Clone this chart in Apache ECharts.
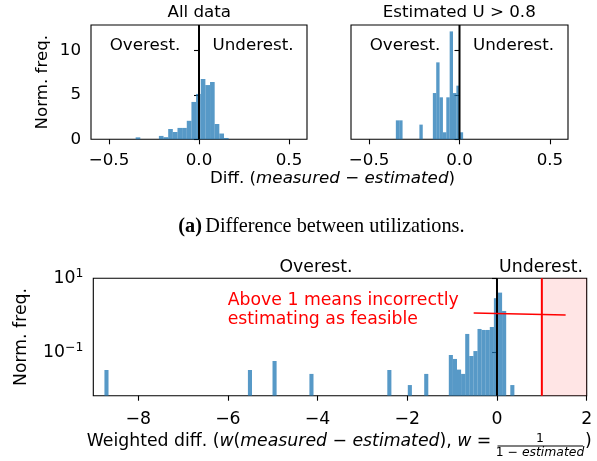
<!DOCTYPE html>
<html><head><meta charset="utf-8">
<script src="https://cdn.jsdelivr.net/npm/echarts@6/dist/echarts.min.js"></script>
<style>html,body{margin:0;padding:0;background:#fff}#c{width:597px;height:461px}</style>
</head><body><div id="c"></div>
<script>
// ---- data (density histograms) ----
// Top-left: all data (20 bins)
const allBinStart = -0.352, allBinWidth = 0.02583;
const allHeights = [0.22,0,0,0,0,0.38,0.24,1.16,0.82,1.28,1.28,2.08,4.2,5.1,6.78,6.1,6.44,1.72,0.65,0.15];
// Top-right: estimated U > 0.8 (20 bins)
const hiBinStart = -0.352, hiBinWidth = 0.0186;
const hiHeights = [2.13,2.13,0,0,0,0,0,1.65,0,0,0,5.2,8.65,4.72,0.79,4.72,12.13,5.2,6.03,0.79];
// Bottom: weighted difference (100 bins, only non-empty listed)
const wBinStart = -8.752, wBinWidth = 0.0914;
const wBins    = [0,35,41,50,69,74,78,84,85,86,87,88,89,90,91,92,93,94,95,96,97,99];
const wHeights = [0.0332,0.0332,0.0582,0.026,0.0332,0.013,0.026,0.0845,0.066,0.034,0.026,0.313,0.0794,0.108,0.427,0.401,0.401,0.483,2.9,4.1,1.31,0.013];
// ticks
const topXTicks = [-0.5,0,0.5];
const topYTicks = [0,5,10];
const botXTicks = [-8,-6,-4,-2,0,2];
const botYTicks = [0.1,10];
// annotation line (data coords)
const annotLine = [[-0.52,1.15],[1.53,1.02]];

const FONT = 'DejaVu Sans';
const FS = 16.7;   // top figure
const FS2 = 17.3;  // bottom figure
const BAR = 'rgba(31,119,180,0.75)';
const minus = s => String(s).replace('-', '\u2212');

function histItem(start, width){
  return function(params, api){
    const i = api.value(0), h = api.value(1);
    if (!(h > 0)) return null;
    const p0 = api.coord([start + i*width, h]);
    const p1 = api.coord([start + (i+1)*width, h]);
    const base = params.coordSys.y + params.coordSys.height;
    return {type:'rect', shape:{x:p0[0], y:p0[1], width:p1[0]-p0[0], height:base-p0[1]}, style:{fill:BAR}};
  };
}

const axLabel = {color:'#000', fontFamily:FONT, fontSize:FS};
const axLabel2 = {color:'#000', fontFamily:FONT, fontSize:FS2};
function xAxisTop(idx){
  return {type:'value', gridIndex:idx, min:-0.6, max:0.6, splitLine:{show:false},
    axisLine:{show:false},
    axisTick:{show:true, length:5, lineStyle:{color:'#000', width:1.1}, customValues:topXTicks},
    axisLabel:Object.assign({margin:13, customValues:topXTicks, formatter:v=>minus(v.toFixed(1))}, axLabel)};
}
function yAxisTop(idx, labels){
  return {type:'value', gridIndex:idx, min:0, max:12.85, splitLine:{show:false},
    axisLine:{show:false},
    axisTick:{show:true, length:5, lineStyle:{color:'#000', width:1.1}, customValues:topYTicks},
    axisLabel:Object.assign({show:labels, margin:10, customValues:topYTicks, formatter:v=>String(v)}, axLabel)};
}
const gridBase = {show:true, borderColor:'#000', borderWidth:1.1, backgroundColor:'transparent', containLabel:false, outerBoundsMode:'none'};
const t = (text, x, y, fs, extra) => Object.assign({type:'text', x, y, style:{text, font:`${fs}px "${FONT}"`, fill:'#000', align:'center', verticalAlign:'middle'}}, extra||{});

const option = {
  animation:false,
  backgroundColor:'#fff',
  grid:[
    Object.assign({left:91, top:25, width:216, height:114.3}, gridBase),
    Object.assign({left:351, top:25, width:217, height:114.3}, gridBase),
    Object.assign({left:93.3, top:278.3, width:493.4, height:117.4}, gridBase)
  ],
  xAxis:[
    xAxisTop(0), xAxisTop(1),
    {type:'value', gridIndex:2, min:-9, max:2, splitLine:{show:false}, axisLine:{show:false},
     axisTick:{show:true, length:5, lineStyle:{color:'#000', width:1.1}, customValues:botXTicks},
     axisLabel:Object.assign({margin:15, customValues:botXTicks, showMinLabel:true, showMaxLabel:true, formatter:v=>minus(v)}, axLabel2)}
  ],
  yAxis:[
    yAxisTop(0,true), yAxisTop(1,false),
    {type:'log', logBase:10, gridIndex:2, min:0.0067, max:10, splitLine:{show:false}, axisLine:{show:false},
     axisTick:{show:true, length:5, lineStyle:{color:'#000', width:1.1}, customValues:botYTicks},
     minorTick:{show:false},
     axisLabel:{margin:10, customValues:botYTicks, color:'#000',
       formatter:v=> v>=1 ? '{b|10}{s|1}' : '{b|10}{s|\u22121}',
       rich:{b:{fontFamily:FONT, fontSize:FS2, color:'#000'}, s:{fontFamily:FONT, fontSize:12.4, color:'#000', padding:[0,0,9,0]}}}}
  ],
  series:[
    {type:'custom', xAxisIndex:0, yAxisIndex:0, renderItem:histItem(allBinStart, allBinWidth), data:allHeights.map((h,i)=>[i,h]), encode:{x:-1,y:-1}, silent:true},
    {type:'custom', xAxisIndex:1, yAxisIndex:1, renderItem:histItem(hiBinStart, hiBinWidth), data:hiHeights.map((h,i)=>[i,h]), encode:{x:-1,y:-1}, silent:true},
    {type:'custom', xAxisIndex:2, yAxisIndex:2, renderItem:histItem(wBinStart, wBinWidth), data:wBins.map((b,i)=>[b,wHeights[i]]), encode:{x:-1,y:-1}, silent:true},
    {type:'line', xAxisIndex:0, yAxisIndex:0, data:[[0,0],[0,12.85]], symbol:'none', lineStyle:{color:'#000', width:2}, z:5, silent:true},
    {type:'line', xAxisIndex:1, yAxisIndex:1, data:[[0,0],[0,12.85]], symbol:'none', lineStyle:{color:'#000', width:2}, z:5, silent:true},
    {type:'line', xAxisIndex:2, yAxisIndex:2, data:[[0,0.0067],[0,10]], symbol:'none', lineStyle:{color:'#000', width:2}, z:5, silent:true,
     markArea:{silent:true, itemStyle:{color:'rgba(255,0,0,0.1)', borderWidth:0}, data:[[{xAxis:1},{xAxis:2}]]}},
    {type:'line', xAxisIndex:2, yAxisIndex:2, data:[[1,0.0067],[1,10]], symbol:'none', lineStyle:{color:'#ff0000', width:2}, z:6, silent:true},
    {type:'line', xAxisIndex:2, yAxisIndex:2, data:annotLine, symbol:'none', lineStyle:{color:'#ff0000', width:1.5}, z:6, silent:true}
  ],
  graphic:[
    t('All data', 199.3, 13, FS),
    t('Estimated U > 0.8', 459.3, 13, FS),
    t('Overest.', 145, 45.5, FS),
    t('Underest.', 253, 45.5, FS),
    t('Overest.', 405, 45.5, FS),
    t('Underest.', 513.5, 45.5, FS),
    t('Norm. freq.', 43, 82.2, FS, {rotation:Math.PI/2}),
    {type:'text', x:332.5, y:178.5, style:{text:'{n|Diff. (}{i|measured}{n| \u2212 }{i|estimated}{n|)}', align:'center', verticalAlign:'middle',
      rich:{n:{fontFamily:FONT, fontSize:FS, fill:'#000'}, i:{fontFamily:FONT, fontSize:FS, fontStyle:'italic', fill:'#000'}}}},
    {type:'text', x:178.3, y:227, style:{text:'{b|(a)} {n|Difference between utilizations.}', align:'left', verticalAlign:'middle',
      rich:{b:{fontFamily:'Liberation Serif', fontSize:20.3, fontWeight:'bold', fill:'#000'}, n:{fontFamily:'Liberation Serif', fontSize:20.3, fill:'#000'}}}},
    t('Overest.', 316, 268, FS2),
    t('Underest.', 541, 268, FS2),
    {type:'text', x:227.7, y:301, z:10, style:{text:'Above 1 means incorrectly', font:`${FS2}px "${FONT}"`, fill:'#ff0000', align:'left', verticalAlign:'middle'}},
    {type:'text', x:227.7, y:320, z:10, style:{text:'estimating as feasible', font:`${FS2}px "${FONT}"`, fill:'#ff0000', align:'left', verticalAlign:'middle'}},
    t('Norm. freq.', 22, 337, FS2, {rotation:Math.PI/2}),
    {type:'text', x:86.7, y:442, style:{text:'{n|Weighted diff. (}{i|w}{n|(}{i|measured}{n| \u2212 }{i|estimated}{n|), }{i|w}{n| = }', align:'left', verticalAlign:'middle',
      rich:{n:{fontFamily:FONT, fontSize:FS2, fill:'#000'}, i:{fontFamily:FONT, fontSize:FS2, fontStyle:'italic', fill:'#000'}}}},
    t('1', 540, 439, 12.4),
    {type:'rect', shape:{x:497.5, y:445.5, width:85.5, height:1}, style:{fill:'#000'}},
    {type:'text', x:540, y:453, style:{text:'{n|1 \u2212 }{i|estimated}', align:'center', verticalAlign:'middle',
      rich:{n:{fontFamily:FONT, fontSize:12.4, fill:'#000'}, i:{fontFamily:FONT, fontSize:12.4, fontStyle:'italic', fill:'#000'}}}},
    {type:'text', x:585, y:442, style:{text:')', font:`${FS2}px "${FONT}"`, fill:'#000', align:'left', verticalAlign:'middle'}}
  ]
};
const chart = echarts.init(document.getElementById('c'), null, {renderer:'canvas'});
chart.setOption(option);
</script></body></html>
